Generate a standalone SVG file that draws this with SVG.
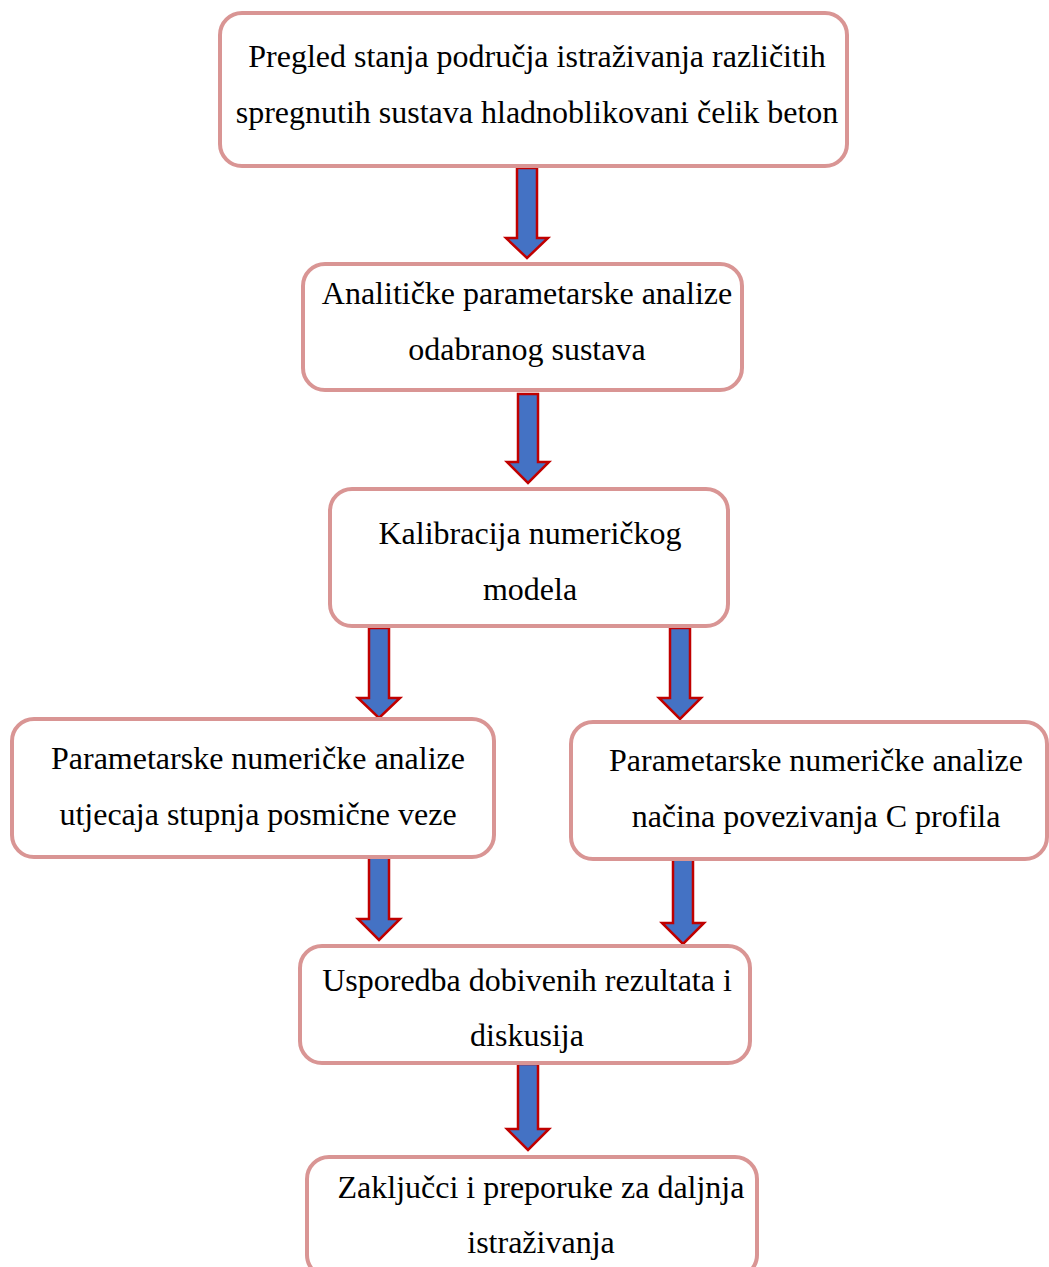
<svg xmlns="http://www.w3.org/2000/svg" width="1049" height="1267" viewBox="0 0 1049 1267">
<style>
.box{fill:#fff;stroke:#d99594;stroke-width:4}
.t{font-family:"Liberation Serif","Times New Roman",serif;font-size:32px;fill:#000;text-anchor:middle}
.arr{fill:#4472c4;stroke:#c00000;stroke-width:2.5;stroke-linejoin:miter}
</style>
<rect width="1049" height="1267" fill="#fff"/>
<g id="connectors">
<polygon class="arr" points="517,168 537,168 537,238 548,238 527,258 506,238 517,238"/>
<polygon class="arr" points="518,394 538,394 538,462 549,462 528,483 507,462 518,462"/>
<polygon class="arr" points="369,628 389,628 389,698 400,698 379,718 358,698 369,698"/>
<polygon class="arr" points="670,628 690,628 690,698 701,698 680,719 659,698 670,698"/>
<polygon class="arr" points="369,854 389,854 389,919 400,919 379,940 358,919 369,919"/>
<polygon class="arr" points="673,858 693,858 693,923 704,923 683,944 662,923 673,923"/>
<polygon class="arr" points="518,1064 538,1064 538,1129 549,1129 528,1150 507,1129 518,1129"/>
</g>
<g id="n1"><rect class="box" x="220" y="13" width="627" height="153" rx="22"/>
<text class="t" x="537" y="67">Pregled stanja područja istraživanja različitih</text>
<text class="t" x="537" y="123">spregnutih sustava hladnoblikovani čelik beton</text></g>
<g id="n2"><rect class="box" x="303" y="264" width="439" height="126" rx="22"/>
<text class="t" x="527" y="304">Analitičke parametarske analize</text>
<text class="t" x="527" y="360">odabranog sustava</text></g>
<g id="n3"><rect class="box" x="330" y="489" width="398" height="137" rx="22"/>
<text class="t" x="530" y="544">Kalibracija numeričkog</text>
<text class="t" x="530" y="600">modela</text></g>
<g id="n4"><rect class="box" x="12" y="719" width="482" height="138" rx="22"/>
<text class="t" x="258" y="769">Parametarske numeričke analize</text>
<text class="t" x="258" y="825">utjecaja stupnja posmične veze</text></g>
<g id="n5"><rect class="box" x="571" y="722" width="476" height="137" rx="22"/>
<text class="t" x="816" y="771">Parametarske numeričke analize</text>
<text class="t" x="816" y="827">načina povezivanja C profila</text></g>
<g id="n6"><rect class="box" x="300" y="946" width="450" height="117" rx="22"/>
<text class="t" x="527" y="991">Usporedba dobivenih rezultata i</text>
<text class="t" x="527" y="1046">diskusija</text></g>
<g id="n7"><rect class="box" x="307" y="1157" width="450" height="120" rx="22"/>
<text class="t" x="541" y="1198">Zaključci i preporuke za daljnja</text>
<text class="t" x="541" y="1253">istraživanja</text></g>
</svg>
